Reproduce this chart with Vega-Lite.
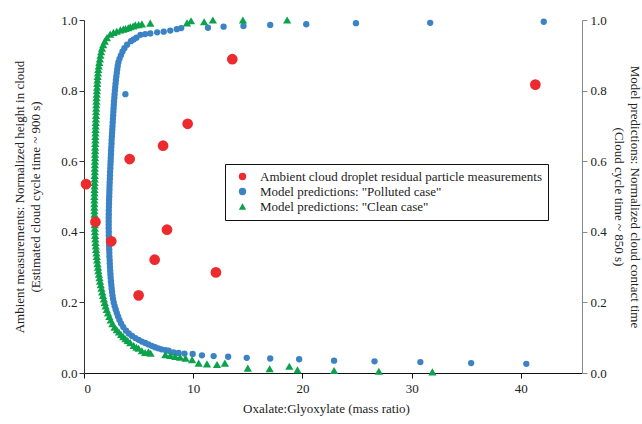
{
 "$schema": "https://vega.github.io/schema/vega-lite/v6.json",
 "width": 498,
 "height": 353,
 "autosize": "none",
 "padding": {"left": 84, "top": 20, "right": 60, "bottom": 51},
 "background": "white",
 "config": {
  "view": {"stroke": null},
  "font": "Liberation Serif",
  "axis": {"grid": false, "labelFont": "Liberation Serif", "titleFont": "Liberation Serif", "labelFontSize": 13, "titleFontSize": 13, "titleFontWeight": "normal", "labelColor": "#222", "titleColor": "#222", "tickSize": 5, "titleLineHeight": 16},
  "legend": {"symbolSize": 55, "symbolStrokeWidth": 0}
 },
 "datasets": {
  "pts": [
   {"x":3.25,"y":0.15,"s":"P"},{"x":3.12,"y":0.16,"s":"P"},{"x":3.0,"y":0.17,"s":"P"},{"x":2.9,"y":0.18,"s":"P"},{"x":2.8,"y":0.19,"s":"P"},{"x":2.72,"y":0.20,"s":"P"},{"x":2.66,"y":0.21,"s":"P"},{"x":2.61,"y":0.22,"s":"P"},{"x":2.57,"y":0.23,"s":"P"},{"x":2.53,"y":0.24,"s":"P"},{"x":2.5,"y":0.25,"s":"P"},{"x":2.47,"y":0.26,"s":"P"},{"x":2.44,"y":0.27,"s":"P"},{"x":2.42,"y":0.28,"s":"P"},{"x":2.4,"y":0.29,"s":"P"},{"x":2.38,"y":0.30,"s":"P"},{"x":2.36,"y":0.31,"s":"P"},{"x":2.35,"y":0.32,"s":"P"},{"x":2.33,"y":0.33,"s":"P"},{"x":2.32,"y":0.34,"s":"P"},{"x":2.31,"y":0.35,"s":"P"},{"x":2.3,"y":0.36,"s":"P"},{"x":2.29,"y":0.37,"s":"P"},{"x":2.28,"y":0.38,"s":"P"},{"x":2.27,"y":0.39,"s":"P"},{"x":2.27,"y":0.40,"s":"P"},{"x":2.26,"y":0.41,"s":"P"},{"x":2.26,"y":0.42,"s":"P"},{"x":2.26,"y":0.43,"s":"P"},{"x":2.26,"y":0.44,"s":"P"},{"x":2.27,"y":0.45,"s":"P"},{"x":2.27,"y":0.46,"s":"P"},{"x":2.28,"y":0.47,"s":"P"},{"x":2.29,"y":0.48,"s":"P"},{"x":2.3,"y":0.49,"s":"P"},{"x":2.31,"y":0.50,"s":"P"},{"x":2.32,"y":0.51,"s":"P"},{"x":2.33,"y":0.52,"s":"P"},{"x":2.34,"y":0.53,"s":"P"},{"x":2.35,"y":0.54,"s":"P"},{"x":2.37,"y":0.55,"s":"P"},{"x":2.38,"y":0.56,"s":"P"},{"x":2.39,"y":0.57,"s":"P"},{"x":2.41,"y":0.58,"s":"P"},{"x":2.42,"y":0.59,"s":"P"},{"x":2.44,"y":0.60,"s":"P"},{"x":2.45,"y":0.61,"s":"P"},{"x":2.47,"y":0.62,"s":"P"},{"x":2.48,"y":0.63,"s":"P"},{"x":2.5,"y":0.64,"s":"P"},{"x":2.52,"y":0.65,"s":"P"},{"x":2.53,"y":0.66,"s":"P"},{"x":2.55,"y":0.67,"s":"P"},{"x":2.57,"y":0.68,"s":"P"},{"x":2.59,"y":0.69,"s":"P"},{"x":2.61,"y":0.70,"s":"P"},{"x":2.63,"y":0.71,"s":"P"},{"x":2.65,"y":0.72,"s":"P"},{"x":2.67,"y":0.73,"s":"P"},{"x":2.69,"y":0.74,"s":"P"},{"x":2.71,"y":0.75,"s":"P"},{"x":2.73,"y":0.76,"s":"P"},{"x":2.75,"y":0.77,"s":"P"},{"x":2.78,"y":0.78,"s":"P"},{"x":2.8,"y":0.79,"s":"P"},{"x":2.83,"y":0.80,"s":"P"},{"x":2.86,"y":0.81,"s":"P"},{"x":2.89,"y":0.82,"s":"P"},{"x":2.92,"y":0.83,"s":"P"},{"x":2.96,"y":0.84,"s":"P"},{"x":3.0,"y":0.85,"s":"P"},{"x":3.04,"y":0.86,"s":"P"},{"x":3.09,"y":0.87,"s":"P"},{"x":3.15,"y":0.88,"s":"P"},{"x":3.25,"y":0.89,"s":"P"},{"x":3.38,"y":0.90,"s":"P"},{"x":3.52,"y":0.91,"s":"P"},{"x":3.7,"y":0.92,"s":"P"},{"x":3.95,"y":0.93,"s":"P"},{"x":4.3,"y":0.94,"s":"P"},{"x":4.55,"y":0.945,"s":"P"},{"x":4.8,"y":0.95,"s":"P"},
   {"x":5.17,"y":0.958,"s":"P"},{"x":5.6,"y":0.96,"s":"P"},{"x":6.07,"y":0.962,"s":"P"},{"x":6.7,"y":0.965,"s":"P"},{"x":7.3,"y":0.967,"s":"P"},{"x":7.9,"y":0.97,"s":"P"},{"x":8.5,"y":0.974,"s":"P"},{"x":8.9,"y":0.977,"s":"P"},{"x":11.35,"y":0.978,"s":"P"},{"x":12.78,"y":0.981,"s":"P"},{"x":14.6,"y":0.983,"s":"P"},{"x":17.05,"y":0.986,"s":"P"},{"x":20.35,"y":0.988,"s":"P"},{"x":24.9,"y":0.991,"s":"P"},{"x":31.7,"y":0.992,"s":"P"},{"x":42.1,"y":0.995,"s":"P"},{"x":3.79,"y":0.79,"s":"P"},
   {"x":3.4,"y":0.14,"s":"P"},{"x":3.6,"y":0.13,"s":"P"},{"x":3.85,"y":0.12,"s":"P"},{"x":4.1,"y":0.112,"s":"P"},{"x":4.4,"y":0.105,"s":"P"},{"x":4.7,"y":0.099,"s":"P"},{"x":5.0,"y":0.094,"s":"P"},{"x":5.3,"y":0.089,"s":"P"},{"x":5.6,"y":0.085,"s":"P"},{"x":5.9,"y":0.081,"s":"P"},{"x":6.2,"y":0.077,"s":"P"},{"x":6.5,"y":0.073,"s":"P"},{"x":6.8,"y":0.07,"s":"P"},{"x":7.1,"y":0.067,"s":"P"},{"x":7.45,"y":0.065,"s":"P"},{"x":7.75,"y":0.063,"s":"P"},{"x":8.2,"y":0.058,"s":"P"},{"x":8.66,"y":0.057,"s":"P"},{"x":9.2,"y":0.055,"s":"P"},{"x":9.95,"y":0.054,"s":"P"},{"x":10.8,"y":0.05,"s":"P"},{"x":11.87,"y":0.048,"s":"P"},{"x":13.2,"y":0.046,"s":"P"},{"x":14.9,"y":0.043,"s":"P"},{"x":17.05,"y":0.041,"s":"P"},{"x":19.7,"y":0.039,"s":"P"},{"x":22.9,"y":0.035,"s":"P"},{"x":26.6,"y":0.033,"s":"P"},{"x":30.8,"y":0.031,"s":"P"},{"x":35.45,"y":0.028,"s":"P"},{"x":40.5,"y":0.026,"s":"P"},
   {"x":2.45,"y":0.15,"s":"C"},{"x":2.32,"y":0.16,"s":"C"},{"x":2.2,"y":0.17,"s":"C"},{"x":2.08,"y":0.18,"s":"C"},{"x":1.98,"y":0.19,"s":"C"},{"x":1.9,"y":0.20,"s":"C"},{"x":1.82,"y":0.21,"s":"C"},{"x":1.74,"y":0.22,"s":"C"},{"x":1.67,"y":0.23,"s":"C"},{"x":1.6,"y":0.24,"s":"C"},{"x":1.53,"y":0.25,"s":"C"},{"x":1.47,"y":0.26,"s":"C"},{"x":1.42,"y":0.27,"s":"C"},{"x":1.37,"y":0.28,"s":"C"},{"x":1.32,"y":0.29,"s":"C"},{"x":1.28,"y":0.30,"s":"C"},{"x":1.24,"y":0.31,"s":"C"},{"x":1.2,"y":0.32,"s":"C"},{"x":1.17,"y":0.33,"s":"C"},{"x":1.14,"y":0.34,"s":"C"},{"x":1.11,"y":0.35,"s":"C"},{"x":1.08,"y":0.36,"s":"C"},{"x":1.06,"y":0.37,"s":"C"},{"x":1.04,"y":0.38,"s":"C"},{"x":1.02,"y":0.39,"s":"C"},{"x":1.0,"y":0.40,"s":"C"},{"x":0.99,"y":0.41,"s":"C"},{"x":0.98,"y":0.42,"s":"C"},{"x":0.97,"y":0.43,"s":"C"},{"x":0.96,"y":0.44,"s":"C"},{"x":0.96,"y":0.45,"s":"C"},{"x":0.95,"y":0.46,"s":"C"},{"x":0.95,"y":0.47,"s":"C"},{"x":0.95,"y":0.48,"s":"C"},{"x":0.95,"y":0.49,"s":"C"},{"x":0.95,"y":0.50,"s":"C"},{"x":0.96,"y":0.51,"s":"C"},{"x":0.96,"y":0.52,"s":"C"},{"x":0.97,"y":0.53,"s":"C"},{"x":0.97,"y":0.54,"s":"C"},{"x":0.98,"y":0.55,"s":"C"},{"x":0.98,"y":0.56,"s":"C"},{"x":0.99,"y":0.57,"s":"C"},{"x":0.99,"y":0.58,"s":"C"},{"x":1.0,"y":0.59,"s":"C"},{"x":1.0,"y":0.60,"s":"C"},{"x":1.01,"y":0.61,"s":"C"},{"x":1.01,"y":0.62,"s":"C"},{"x":1.02,"y":0.63,"s":"C"},{"x":1.02,"y":0.64,"s":"C"},{"x":1.03,"y":0.65,"s":"C"},{"x":1.04,"y":0.66,"s":"C"},{"x":1.04,"y":0.67,"s":"C"},{"x":1.05,"y":0.68,"s":"C"},{"x":1.06,"y":0.69,"s":"C"},{"x":1.07,"y":0.70,"s":"C"},{"x":1.08,"y":0.71,"s":"C"},{"x":1.09,"y":0.72,"s":"C"},{"x":1.1,"y":0.73,"s":"C"},{"x":1.11,"y":0.74,"s":"C"},{"x":1.12,"y":0.75,"s":"C"},{"x":1.13,"y":0.76,"s":"C"},{"x":1.14,"y":0.77,"s":"C"},{"x":1.15,"y":0.78,"s":"C"},{"x":1.17,"y":0.79,"s":"C"},{"x":1.18,"y":0.80,"s":"C"},{"x":1.2,"y":0.81,"s":"C"},{"x":1.21,"y":0.82,"s":"C"},{"x":1.23,"y":0.83,"s":"C"},{"x":1.25,"y":0.84,"s":"C"},{"x":1.28,"y":0.85,"s":"C"},{"x":1.31,"y":0.86,"s":"C"},{"x":1.35,"y":0.87,"s":"C"},{"x":1.4,"y":0.88,"s":"C"},{"x":1.45,"y":0.89,"s":"C"},{"x":1.51,"y":0.90,"s":"C"},{"x":1.57,"y":0.91,"s":"C"},{"x":1.65,"y":0.92,"s":"C"},{"x":1.76,"y":0.93,"s":"C"},{"x":1.9,"y":0.94,"s":"C"},
   {"x":2.1,"y":0.95,"s":"C"},{"x":2.4,"y":0.96,"s":"C"},{"x":2.7,"y":0.965,"s":"C"},{"x":3.0,"y":0.968,"s":"C"},{"x":3.33,"y":0.972,"s":"C"},{"x":3.6,"y":0.974,"s":"C"},{"x":3.8,"y":0.976,"s":"C"},{"x":4.05,"y":0.978,"s":"C"},{"x":4.24,"y":0.981,"s":"C"},{"x":4.5,"y":0.983,"s":"C"},{"x":4.7,"y":0.986,"s":"C"},{"x":5.0,"y":0.987,"s":"C"},{"x":5.3,"y":0.989,"s":"C"},{"x":6.07,"y":0.991,"s":"C"},{"x":9.43,"y":0.992,"s":"C"},{"x":9.8,"y":0.998,"s":"C"},{"x":11.0,"y":0.995,"s":"C"},{"x":11.8,"y":1.0,"s":"C"},{"x":14.55,"y":1.0,"s":"C"},{"x":18.6,"y":1.0,"s":"C"},
   {"x":2.6,"y":0.14,"s":"C"},{"x":2.8,"y":0.13,"s":"C"},{"x":3.0,"y":0.123,"s":"C"},{"x":3.2,"y":0.116,"s":"C"},{"x":3.4,"y":0.109,"s":"C"},{"x":3.6,"y":0.103,"s":"C"},{"x":3.8,"y":0.097,"s":"C"},{"x":4.0,"y":0.092,"s":"C"},{"x":4.24,"y":0.086,"s":"C"},{"x":4.55,"y":0.078,"s":"C"},{"x":4.8,"y":0.073,"s":"C"},{"x":5.0,"y":0.07,"s":"C"},{"x":5.3,"y":0.063,"s":"C"},{"x":5.6,"y":0.058,"s":"C"},{"x":5.9,"y":0.06,"s":"C"},{"x":6.1,"y":0.056,"s":"C"},{"x":7.45,"y":0.052,"s":"C"},{"x":7.9,"y":0.05,"s":"C"},{"x":8.36,"y":0.047,"s":"C"},{"x":8.8,"y":0.045,"s":"C"},{"x":9.3,"y":0.042,"s":"C"},{"x":9.9,"y":0.038,"s":"C"},{"x":10.5,"y":0.028,"s":"C"},{"x":11.26,"y":0.026,"s":"C"},{"x":12.18,"y":0.024,"s":"C"},{"x":12.9,"y":0.028,"s":"C"},{"x":15.0,"y":0.014,"s":"C"},{"x":17.0,"y":0.012,"s":"C"},{"x":18.8,"y":0.019,"s":"C"},{"x":19.55,"y":0.009,"s":"C"},{"x":22.9,"y":0.007,"s":"C"},{"x":27.0,"y":0.005,"s":"C"},{"x":31.9,"y":0.003,"s":"C"},
   {"x":0.19,"y":0.535,"s":"A"},{"x":1.05,"y":0.428,"s":"A"},{"x":2.5,"y":0.373,"s":"A"},{"x":4.18,"y":0.606,"s":"A"},{"x":5.0,"y":0.22,"s":"A"},{"x":6.47,"y":0.321,"s":"A"},{"x":7.24,"y":0.644,"s":"A"},{"x":7.6,"y":0.406,"s":"A"},{"x":9.49,"y":0.706,"s":"A"},{"x":12.08,"y":0.285,"s":"A"},{"x":13.58,"y":0.889,"s":"A"},{"x":41.33,"y":0.817,"s":"A"}
  ]
 },
 "data": {"name": "pts"},
 "layer": [
  {
   "encoding": {
    "x": {"field": "x", "type": "quantitative", "scale": {"domain": [0, 45.6], "nice": false, "zero": false},
          "axis": {"values": [0, 10, 20, 30, 40], "title": "Oxalate:Glyoxylate (mass ratio)", "domainColor": "#111", "tickColor": "#111", "labelPadding": 4, "titlePadding": 7, "titleX": 242}},
    "y": {"field": "y", "type": "quantitative", "scale": {"domain": [0, 1], "nice": false},
          "axis": {"orient": "left", "values": [0, 0.2, 0.4, 0.6, 0.8, 1.0], "format": ".1f", "domainColor": "#333", "tickColor": "#333", "labelPadding": 2, "titlePadding": 18,
                   "title": ["Ambient measurements: Normalized height in cloud", "(Estimated cloud cycle time ~ 900 s)"]}},
    "color": {"field": "s", "type": "nominal",
              "scale": {"domain": ["A", "P", "C"], "range": ["#ec2b2f", "#3b83c5", "#0ca24c"]},
              "legend": {"title": null, "orient": "none", "legendX": 141, "legendY": 144, "strokeColor": "#111", "fillColor": "white", "padding": 6, "rowPadding": 1, "labelFont": "Liberation Serif", "labelFontSize": 13, "labelColor": "#222", "labelLimit": 400, "labelOffset": 11, "symbolOffset": 5, "symbolSize": 55,
                         "labelExpr": "datum.label == 'A' ? 'Ambient cloud droplet residual particle measurements' : datum.label == 'P' ? 'Model predictions: \"Polluted case\"' : 'Model predictions: \"Clean case\"'"}},
    "shape": {"field": "s", "type": "nominal",
              "scale": {"domain": ["A", "P", "C"], "range": ["circle", "circle", "triangle-up"]},
              "legend": {"title": null, "orient": "none", "legendX": 141, "legendY": 144, "strokeColor": "#111", "fillColor": "white", "padding": 6, "rowPadding": 1, "labelFont": "Liberation Serif", "labelFontSize": 13, "labelColor": "#222", "labelLimit": 400, "labelOffset": 11, "symbolOffset": 5, "symbolSize": 55,
                         "labelExpr": "datum.label == 'A' ? 'Ambient cloud droplet residual particle measurements' : datum.label == 'P' ? 'Model predictions: \"Polluted case\"' : 'Model predictions: \"Clean case\"'"}}
   },
   "layer": [
    {"transform": [{"filter": "datum.s == 'P'"}], "mark": {"type": "point", "filled": true, "opacity": 1, "strokeWidth": 0, "size": 40}},
    {"transform": [{"filter": "datum.s == 'C'"}], "mark": {"type": "point", "filled": true, "opacity": 1, "strokeWidth": 0, "size": 68}},
    {"transform": [{"filter": "datum.s == 'A'"}], "mark": {"type": "point", "filled": true, "opacity": 1, "strokeWidth": 0, "size": 115}}
   ]
  },
  {
   "transform": [{"filter": "datum.s == 'A'"}],
   "mark": {"type": "point", "opacity": 0},
   "encoding": {
    "x": {"field": "x", "type": "quantitative"},
    "y": {"field": "y", "type": "quantitative", "scale": {"domain": [0, 1], "nice": false},
          "axis": {"orient": "right", "values": [0, 0.2, 0.4, 0.6, 0.8, 1.0], "format": ".1f", "domainColor": "#888", "tickColor": "#888", "labelPadding": 3, "titlePadding": 5,
                   "title": ["Model predictions: Normalized cloud contact time", "(Cloud cycle time ~ 850 s)"]}}
   }
  }
 ],
 "resolve": {"scale": {"y": "independent"}}
}
